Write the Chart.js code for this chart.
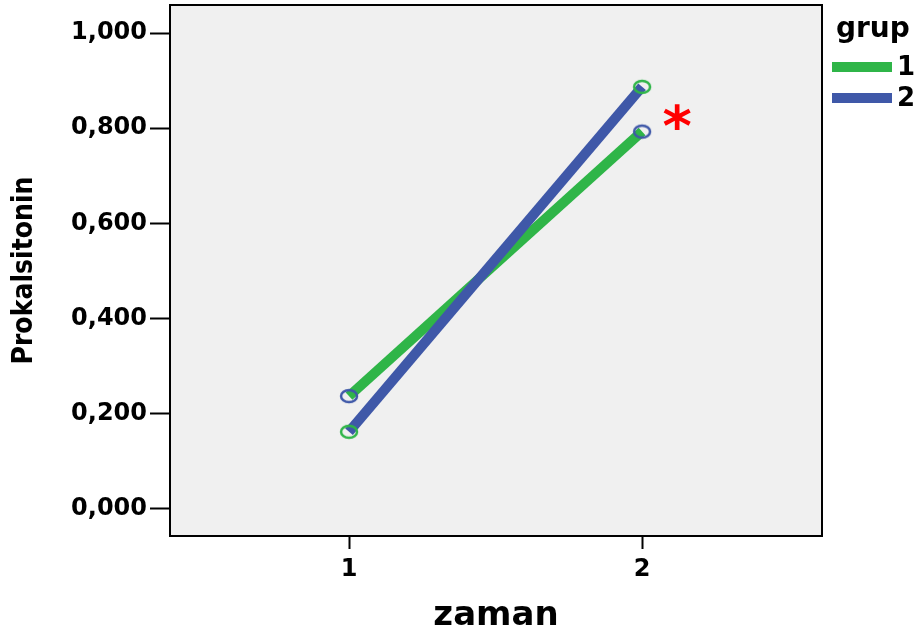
<!DOCTYPE html>
<html>
<head>
<meta charset="utf-8">
<title>Prokalsitonin</title>
<script src="https://cdn.jsdelivr.net/npm/chart.js@4"></script>
<style>
  html, body { margin: 0; padding: 0; background: #fff; }
  #wrap { width: 920px; height: 632px; }
</style>
</head>
<body>
<div id="wrap"><canvas id="chart"></canvas></div>
<script>
/* ── Data ── */
const zaman   = [1, 2];
const grup1   = [0.237, 0.793];
const grup2   = [0.162, 0.887];
const yTicks  = [0, 0.2, 0.4, 0.6, 0.8, 1.0];
const xTicks  = [1, 2];
const groups  = ['1', '2'];

const GREEN = '#2fb548';
const BLUE  = '#3f58a8';
const PLOT_BG = '#f0f0f0';
const BOLD = 'DejaVu Sans';

/* Small ring used as point marker (slightly wider than tall, like SPSS) */
function ring(color) {
  const c = document.createElement('canvas');
  c.width = 22; c.height = 18;
  const g = c.getContext('2d');
  g.strokeStyle = color;
  g.lineWidth = 2.5;
  g.beginPath();
  g.ellipse(11, 9, 8, 6, 0, 0, Math.PI * 2);
  g.stroke();
  return c;
}

const pts = vals => zaman.map((x, i) => ({ x, y: vals[i] }));

/* ── Plot background + frame ── */
const frame = {
  id: 'frame',
  beforeDatasetsDraw(chart) {
    const { ctx, chartArea: a } = chart;
    ctx.save();
    ctx.fillStyle = PLOT_BG;
    ctx.fillRect(a.left, a.top, a.right - a.left, a.bottom - a.top);
    ctx.restore();
  },
  afterDatasetsDraw(chart) {
    const { ctx, chartArea: a } = chart;
    ctx.save();
    ctx.strokeStyle = '#000';
    ctx.lineWidth = 2;
    ctx.strokeRect(a.left, a.top, a.right - a.left, a.bottom - a.top);
    ctx.restore();
  },
};

/* ── Legend (grup) + significance star ── */
const extras = {
  id: 'extras',
  afterDraw(chart) {
    const { ctx, scales } = chart;
    ctx.save();
    ctx.fillStyle = '#000';
    ctx.textBaseline = 'middle';
    ctx.textAlign = 'left';
    ctx.font = 'bold 28px ' + BOLD;
    ctx.fillText('grup', 836, 30);

    const rows = [{ c: GREEN, y: 67 }, { c: BLUE, y: 98 }];
    ctx.font = 'bold 26px ' + BOLD;
    rows.forEach((r, i) => {
      ctx.fillStyle = r.c;
      ctx.fillRect(832, r.y - 5, 60, 10);
      ctx.fillStyle = '#000';
      ctx.fillText(groups[i], 897, r.y + 1);
    });

    // red star next to time 2
    ctx.fillStyle = '#ff0000';
    ctx.textAlign = 'center';
    ctx.font = 'bold 56px ' + BOLD;
    ctx.fillText('*', scales.x.getPixelForValue(2.12), scales.y.getPixelForValue(0.796));
    ctx.restore();
  },
};

new Chart(document.getElementById('chart'), {
  type: 'line',
  data: {
    datasets: [
      {
        label: groups[0],
        data: pts(grup1),
        borderColor: GREEN,
        borderWidth: 10,
        borderCapStyle: 'butt',
        pointStyle: ring(BLUE),
        pointRadius: 9,
        order: 1,
      },
      {
        label: groups[1],
        data: pts(grup2),
        borderColor: BLUE,
        borderWidth: 10,
        borderCapStyle: 'butt',
        pointStyle: ring(GREEN),
        pointRadius: 9,
        order: 0,
      },
    ],
  },
  options: {
    responsive: true,
    maintainAspectRatio: false,
    animation: false,
    layout: { autoPadding: false, padding: { top: 5, right: 98, left: 0, bottom: 0 } },
    plugins: { legend: { display: false }, tooltip: { enabled: false } },
    scales: {
      x: {
        type: 'linear',
        min: 0.389,
        max: 2.614,
        afterBuildTicks: s => { s.ticks = xTicks.map(v => ({ value: v })); },
        afterFit: s => { s.height = 96; s.paddingLeft = 0; s.paddingRight = 0; },
        border: { display: false },
        grid: { drawOnChartArea: false, drawTicks: true, tickLength: 13, tickColor: '#000', tickWidth: 2 },
        ticks: { color: '#000', padding: 6, font: { family: BOLD, weight: 'bold', size: 24 } },
        title: {
          display: true, text: 'zaman', color: '#000',
          font: { family: BOLD, weight: 'bold', size: 34 },
          padding: { top: 0, bottom: -5 },
        },
      },
      y: {
        min: -0.057,
        max: 1.059,
        afterBuildTicks: s => { s.ticks = yTicks.map(v => ({ value: v })); },
        afterFit: s => { s.width = 170; s.paddingTop = 0; s.paddingBottom = 0; },
        border: { display: false },
        grid: { drawOnChartArea: false, drawTicks: true, tickLength: 20, tickColor: '#000', tickWidth: 2 },
        ticks: {
          color: '#000', padding: 3,
          font: { family: BOLD, weight: 'bold', size: 24 },
          callback: v => v.toFixed(3).replace('.', ','),
        },
        title: {
          display: true, text: 'Prokalsitonin', color: '#000',
          font: { family: "'Liberation Sans Narrow', 'DejaVu Sans Condensed', sans-serif", weight: 'bold', size: 28 },
          padding: { top: 8, bottom: 0 },
        },
      },
    },
  },
  plugins: [frame, extras],
});
</script>
</body>
</html>
